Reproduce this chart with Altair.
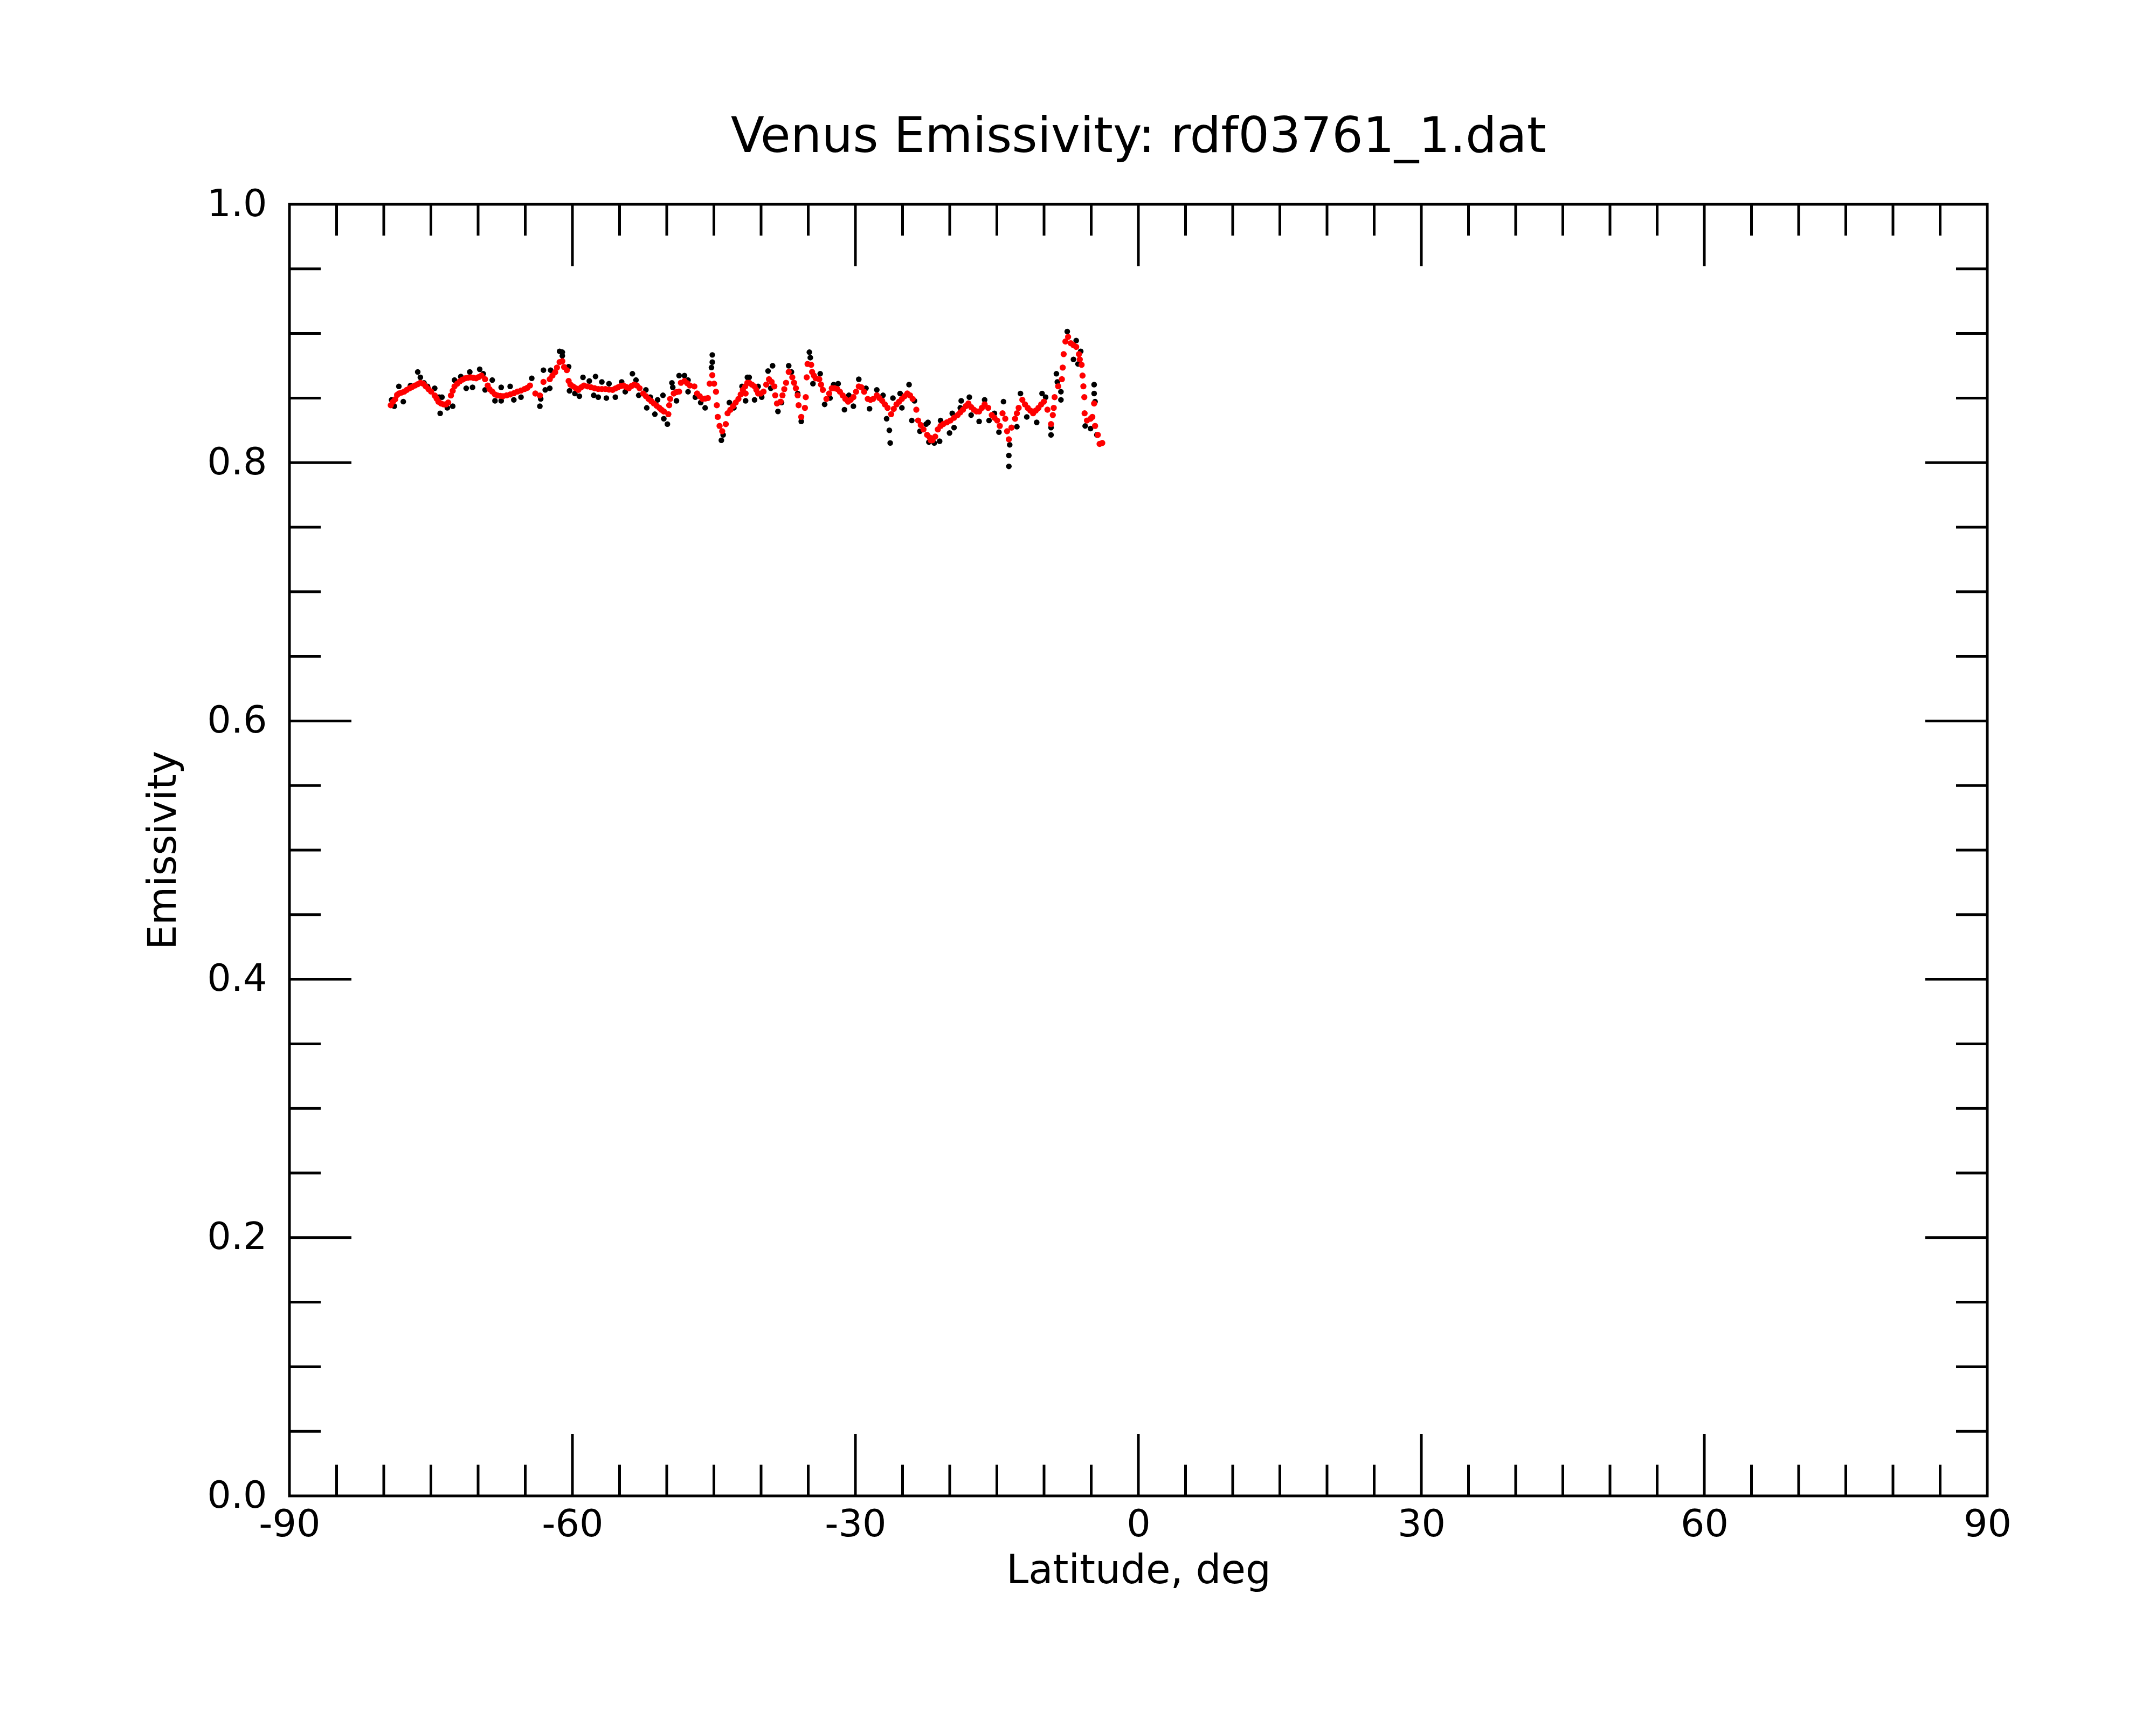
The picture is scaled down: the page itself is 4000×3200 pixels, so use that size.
import altair as alt
import pandas as pd

# ---- data ----
red_lat = [-79.26, -78.79, -78.40, -77.83, -77.26, -76.69, -76.12, -75.55, -74.98, -74.60,
           -74.21, -73.64, -73.17, -72.88, -72.50, -71.93, -71.36, -70.79, -70.21, -69.64,
           -69.26, -68.98, -68.50, -67.93, -67.36, -66.60, -65.83, -65.07, -64.50, -63.93,
           -63.45, -63.07, -62.40, -61.83, -61.36, -61.07, -60.88, -60.59, -60.40, -59.93,
           -59.36, -58.78, -58.02, -57.26, -56.50, -55.74, -55.17, -54.59, -54.02, -53.45,
           -52.88, -52.50, -51.93, -51.36, -50.78, -50.31, -49.83, -49.74, -49.64, -49.26,
           -48.69, -48.50, -48.12, -47.55, -47.07, -46.78, -46.21, -45.64, -45.45, -45.17,
           -44.98, -44.78, -44.69, -44.59, -44.40, -44.12, -43.74, -43.55, -42.97, -42.40,
           -41.93, -41.45, -41.64, -41.26, -40.69, -40.31, -39.74, -39.16, -38.59, -38.50,
           -38.31, -37.93, -37.73, -37.35, -37.07, -36.69, -36.31, -36.12, -36.02, -35.74,
           -35.35, -35.26, -35.16, -35.07, -34.69, -34.59, -34.21, -33.83, -33.45, -33.07,
           -32.50, -31.93, -31.35, -30.78, -30.21, -29.64, -29.07, -28.69, -28.12, -27.73,
           -27.16, -26.59, -26.21, -25.64, -25.07, -24.50, -23.93, -23.54, -23.35, -22.78,
           -22.02, -21.83, -21.26, -20.69, -19.92, -19.16, -18.59, -18.02, -17.45, -16.88,
           -16.30, -15.92, -15.54, -14.97, -14.69, -14.40, -14.11, -13.92, -13.73, -13.45,
           -13.07, -12.69, -12.30, -11.73, -11.16, -10.59, -10.02, -9.64, -9.26, -9.07,
           -8.97, -8.88, -8.50, -8.11, -8.02, -7.92, -7.73, -7.45, -7.16, -6.59,
           -6.30, -6.02, -5.92, -5.83, -5.73, -5.70, -5.45, -5.07, -4.88, -4.69,
           -4.59, -4.30, -4.11, -3.83]
red_emis = [0.8444, 0.8490, 0.8535, 0.8550, 0.8576, 0.8597, 0.8618, 0.8590, 0.8550, 0.8520,
            0.8472, 0.8451, 0.8465, 0.8520, 0.8590, 0.8630, 0.8653, 0.8660, 0.8653, 0.8674,
            0.8646, 0.8597, 0.8550, 0.8520, 0.8514, 0.8528, 0.8550, 0.8570, 0.8597, 0.8535,
            0.8520, 0.8625, 0.8646, 0.8700, 0.8778, 0.8785, 0.8740, 0.8716, 0.8632, 0.8590,
            0.8563, 0.8597, 0.8583, 0.8570, 0.8570, 0.8563, 0.8583, 0.8597, 0.8576, 0.8604,
            0.8576, 0.8535, 0.8493, 0.8458, 0.8424, 0.8396, 0.8375, 0.8444, 0.8493, 0.8535,
            0.8550, 0.8618, 0.8632, 0.8597, 0.8590, 0.8535, 0.8493, 0.8500, 0.8611, 0.8677,
            0.8611, 0.8549, 0.8444, 0.8354, 0.8284, 0.8243, 0.8298, 0.8382, 0.8437, 0.8493,
            0.8563, 0.8618, 0.8535, 0.8618, 0.8590, 0.8535, 0.8550, 0.8646, 0.8590, 0.8521,
            0.8458, 0.8472, 0.8521, 0.8618, 0.8702, 0.8660, 0.8576, 0.8521, 0.8444, 0.8354,
            0.8424, 0.8507, 0.8660, 0.8764, 0.8757, 0.8702, 0.8653, 0.8646, 0.8563, 0.8493,
            0.8576, 0.8570, 0.8521, 0.8472, 0.8507, 0.8590, 0.8549, 0.8493, 0.8493, 0.8521,
            0.8479, 0.8424, 0.8375, 0.8451, 0.8493, 0.8535, 0.8493, 0.8410, 0.8326, 0.8257,
            0.8173, 0.8173, 0.8257, 0.8298, 0.8326, 0.8368, 0.8410, 0.8458, 0.8410, 0.8396,
            0.8451, 0.8424, 0.8368, 0.8326, 0.8284, 0.8382, 0.8340, 0.8243, 0.8180, 0.8271,
            0.8340, 0.8424, 0.8486, 0.8424, 0.8382, 0.8424, 0.8472, 0.8410, 0.8298, 0.8368,
            0.8424, 0.8507, 0.8591, 0.8646, 0.8736, 0.8840, 0.8938, 0.8973, 0.8924, 0.8896,
            0.8840, 0.8757, 0.8674, 0.8591, 0.8507, 0.8382, 0.8326, 0.8340, 0.8354, 0.8458,
            0.8284, 0.8215, 0.8145, 0.8152]

# further points
red_lat_b = [-79.01, -78.59, -78.12, -77.55, -76.98, -76.40, -75.83, -75.26, -74.40, -73.93,
             -73.40, -72.69, -72.21, -71.64, -71.07, -70.50, -69.93, -68.79, -68.21, -67.64,
             -66.98, -66.21, -65.45, -64.79, -62.12, -61.64,
             -60.21, -59.64, -59.07, -58.40, -57.64, -56.88, -56.12, -55.45, -54.88, -54.31,
             -53.74, -53.17, -52.21, -51.64, -51.07, -50.55, -48.97, -47.83, -46.50, -45.93,
             -43.26, -42.69, -42.16, -41.68,
             -40.97, -40.50, -40.02, -39.45, -38.88, -37.54, -36.50, -34.40, -33.64, -32.78,
             -32.21, -31.64, -31.07, -30.50, -29.93, -29.36, -28.40, -27.45, -26.88, -25.93,
             -25.36, -24.78, -24.21, -23.07, -22.40,
             -22.11, -21.54, -20.97, -20.30, -19.54, -18.88, -18.30, -17.73, -17.16, -16.59,
             -15.26, -12.88, -12.02, -11.45, -10.88, -10.30, -6.88, -6.21]
red_emis_b = [0.8472, 0.8524, 0.8542, 0.8563, 0.8586, 0.8607, 0.8611, 0.8569, 0.8496, 0.8458,
              0.8451, 0.8556, 0.8611, 0.8643, 0.8657, 0.8656, 0.8663, 0.8569, 0.8528, 0.8517,
              0.8521, 0.8537, 0.8558, 0.8579, 0.8674, 0.8736,
              0.8604, 0.8576, 0.8583, 0.8590, 0.8576, 0.8570, 0.8565, 0.8574, 0.8593, 0.8586,
              0.8593, 0.8597, 0.8514, 0.8476, 0.8440, 0.8409, 0.8546, 0.8615, 0.8514, 0.8496,
              0.8409, 0.8465, 0.8528, 0.8590,
              0.8604, 0.8563, 0.8535, 0.8604, 0.8625, 0.8569, 0.8618, 0.8674, 0.8604, 0.8535,
              0.8576, 0.8549, 0.8493, 0.8486, 0.8549, 0.8583, 0.8486, 0.8500, 0.8451, 0.8416,
              0.8472, 0.8514, 0.8521, 0.8291, 0.8215,
              0.8194, 0.8201, 0.8284, 0.8312, 0.8347, 0.8389, 0.8437, 0.8430, 0.8396, 0.8424,
              0.8347, 0.8382, 0.8451, 0.8403, 0.8403, 0.8451, 0.8910, 0.8799]

black_lat = [-79.17, -78.88, -78.40, -77.93, -77.17, -76.40, -76.12, -75.74, -75.36, -74.60,
             -74.12, -74.02, -73.83, -73.26, -72.69, -72.50, -71.83, -71.26, -70.88, -70.59,
             -69.83, -69.45, -69.26, -68.50, -68.21, -67.55, -67.55, -66.60, -66.21, -65.45,
             -64.31, -63.45, -63.36, -63.07, -62.88, -62.31, -62.40, -61.36, -61.07,
             -61.07, -60.40, -60.31, -59.74, -59.26, -58.88, -58.21, -57.55, -57.74, -57.26,
             -56.88, -56.40, -56.12, -55.45, -54.78, -54.40, -53.64, -53.26, -52.97, -52.21,
             -52.12, -51.74, -51.26, -50.97, -50.40, -50.31, -49.93, -49.45, -49.36, -48.97,
             -48.69, -48.12, -47.74, -47.74, -46.97, -46.40, -45.93, -45.17, -45.17, -45.26,
             -44.21, -44.02, -43.36, -42.88, -42.02, -41.45,
             -41.74, -41.64, -41.26, -40.69, -40.31, -39.93, -39.26, -38.78, -38.97, -38.21,
             -37.83, -37.07, -36.78, -36.12, -35.74, -34.88, -34.78, -34.50, -33.73, -33.26,
             -32.69, -32.31, -31.83, -31.16, -30.69, -30.21, -29.64, -28.88, -28.50, -27.73,
             -27.07, -26.69, -26.40, -26.31, -26.02, -25.26, -25.07, -24.31, -24.02, -23.74,
             -23.16, -22.50, -22.21,
             -22.30, -21.64, -21.07, -20.97, -20.02, -19.73, -19.54, -18.88, -18.78, -17.92,
             -17.73, -16.88, -16.30, -15.83, -15.26, -14.78, -14.30, -13.64, -13.73, -13.73,
             -12.88, -12.50, -11.83, -10.78, -10.21, -9.83, -9.26, -9.26, -8.69, -8.59,
             -8.21, -8.21, -7.54, -6.59, -6.88, -6.40, -6.11, -5.64, -5.07, -4.69,
             -4.69, -4.59, -4.40]
black_emis = [0.8486, 0.8437, 0.8590, 0.8472, 0.8597, 0.8702, 0.8660, 0.8618, 0.8590, 0.8576,
              0.8507, 0.8382, 0.8507, 0.8424, 0.8437, 0.8639, 0.8667, 0.8576, 0.8702, 0.8583,
              0.8723, 0.8688, 0.8563, 0.8639, 0.8479, 0.8583, 0.8479, 0.8590, 0.8486, 0.8507,
              0.8653, 0.8437, 0.8493, 0.8716, 0.8563, 0.8716, 0.8576, 0.8862, 0.8827,
              0.8855, 0.8743, 0.8556, 0.8535, 0.8514, 0.8660, 0.8632, 0.8667, 0.8521, 0.8507,
              0.8625, 0.8500, 0.8611, 0.8507, 0.8625, 0.8549, 0.8688, 0.8639, 0.8521, 0.8563,
              0.8424, 0.8507, 0.8375, 0.8486, 0.8521, 0.8340, 0.8298, 0.8618, 0.8583, 0.8479,
              0.8674, 0.8674, 0.8639, 0.8549, 0.8507, 0.8465, 0.8424, 0.8834, 0.8778, 0.8736,
              0.8173, 0.8215, 0.8465, 0.8424, 0.8590, 0.8660,
              0.8590, 0.8479, 0.8660, 0.8486, 0.8590, 0.8507, 0.8709, 0.8750, 0.8576, 0.8396,
              0.8465, 0.8750, 0.8702, 0.8535, 0.8319, 0.8855, 0.8813, 0.8611, 0.8688, 0.8451,
              0.8500, 0.8604, 0.8611, 0.8410, 0.8521, 0.8437, 0.8646, 0.8576, 0.8417, 0.8563,
              0.8521, 0.8340, 0.8250, 0.8152, 0.8500, 0.8535, 0.8424, 0.8604, 0.8326, 0.8479,
              0.8243, 0.8298, 0.8159,
              0.8312, 0.8152, 0.8166, 0.8326, 0.8229, 0.8382, 0.8271, 0.8424, 0.8479, 0.8507,
              0.8368, 0.8319, 0.8486, 0.8326, 0.8382, 0.8236, 0.8472, 0.8138, 0.8055, 0.7971,
              0.8278, 0.8535, 0.8354, 0.8312, 0.8535, 0.8507, 0.8215, 0.8271, 0.8688, 0.8625,
              0.8549, 0.8486, 0.9015, 0.8945, 0.8799, 0.8764, 0.8862, 0.8284, 0.8264, 0.8604,
              0.8535, 0.8472, 0.8215]

x_label_values = [-90, -60, -30, 0, 30, 60, 90]
y_label_values = [0.0, 0.2, 0.4, 0.6, 0.8, 1.0]
x_major_ticks = [-60, -30, 0, 30, 60]
x_minor_ticks = [-85, -80, -75, -70, -65, -55, -50, -45, -40, -35, -25, -20, -15, -10, -5,
                 5, 10, 15, 20, 25, 35, 40, 45, 50, 55, 65, 70, 75, 80, 85]
y_major_ticks = [0.2, 0.4, 0.6, 0.8]
y_minor_ticks = [0.05, 0.1, 0.15, 0.25, 0.3, 0.35, 0.45, 0.5, 0.55, 0.65, 0.7, 0.75,
                 0.85, 0.9, 0.95]

# ---- layout ----
W, H = 3150, 2396
FONT = "DejaVu Sans"
MAJ, MIN = 115, 58
LW = 5

xscale = alt.Scale(domain=[-90, 90], nice=False, zero=False)
yscale = alt.Scale(domain=[0, 1], nice=False, zero=False)

xaxis = alt.Axis(values=x_label_values, labelExpr="'' + datum.value", ticks=False,
                 domain=False, grid=False,
                 labelFont=FONT, labelFontSize=70, labelColor="black", labelPadding=19,
                 labelFlush=False, labelOverlap=False,
                 title="Latitude, deg", titleFont=FONT, titleFontSize=74,
                 titleFontWeight="normal", titleColor="black",
                 titleX=W / 2, titleY=161, titleBaseline="alphabetic", titleAlign="center")
yaxis = alt.Axis(values=y_label_values, format=".1f", ticks=False, domain=False, grid=False,
                 labelFont=FONT, labelFontSize=70, labelColor="black", labelPadding=42,
                 labelFlush=False, labelOverlap=False, labelBaseline="middle",
                 title="Emissivity", titleFont=FONT, titleFontSize=73,
                 titleFontWeight="normal", titleColor="black",
                 titleX=-212, titleY=H / 2, titleAngle=270, titleBaseline="alphabetic",
                 titleAlign="center")

X = alt.X("lat:Q", scale=xscale, axis=xaxis)
Y = alt.Y("emis:Q", scale=yscale, axis=yaxis)

black_df = pd.DataFrame({"lat": black_lat, "emis": black_emis})
red_df = pd.DataFrame({"lat": red_lat + red_lat_b, "emis": red_emis + red_emis_b})

black_pts = alt.Chart(black_df).mark_circle(size=110, color="black", opacity=1).encode(x=X, y=Y)
red_pts = alt.Chart(red_df).mark_circle(size=130, color="#ff0000", opacity=1).encode(x=X, y=Y)

def xticks(vals, length):
    df = pd.DataFrame({"lat": vals})
    bot = alt.Chart(df).mark_rule(color="black", strokeWidth=LW).encode(
        x=X, y=alt.value(H), y2=alt.value(H - length))
    top = alt.Chart(df).mark_rule(color="black", strokeWidth=LW).encode(
        x=X, y=alt.value(0), y2=alt.value(length))
    return [bot, top]

def yticks(vals, length):
    df = pd.DataFrame({"emis": vals})
    left = alt.Chart(df).mark_rule(color="black", strokeWidth=LW).encode(
        y=Y, x=alt.value(0), x2=alt.value(length))
    right = alt.Chart(df).mark_rule(color="black", strokeWidth=LW).encode(
        y=Y, x=alt.value(W - length), x2=alt.value(W))
    return [left, right]

layers = (xticks(x_major_ticks, MAJ) + xticks(x_minor_ticks, MIN)
          + yticks(y_major_ticks, MAJ) + yticks(y_minor_ticks, MIN)
          + [black_pts, red_pts])

chart = alt.layer(*layers).properties(
    width=W, height=H,
    title=alt.TitleParams(text="Venus Emissivity: rdf03761_1.dat", font=FONT, fontSize=91,
                          fontWeight="normal", color="black", anchor="middle",
                          baseline="alphabetic", offset=60, dy=89),
    autosize=alt.AutoSizeParams(type="none"),
    padding={"left": 529, "top": 371, "right": 300, "bottom": 400},
    background="white",
).configure_view(stroke="black", strokeWidth=LW)

chart.save("out.html", embed_options={"renderer": "svg", "actions": False})
